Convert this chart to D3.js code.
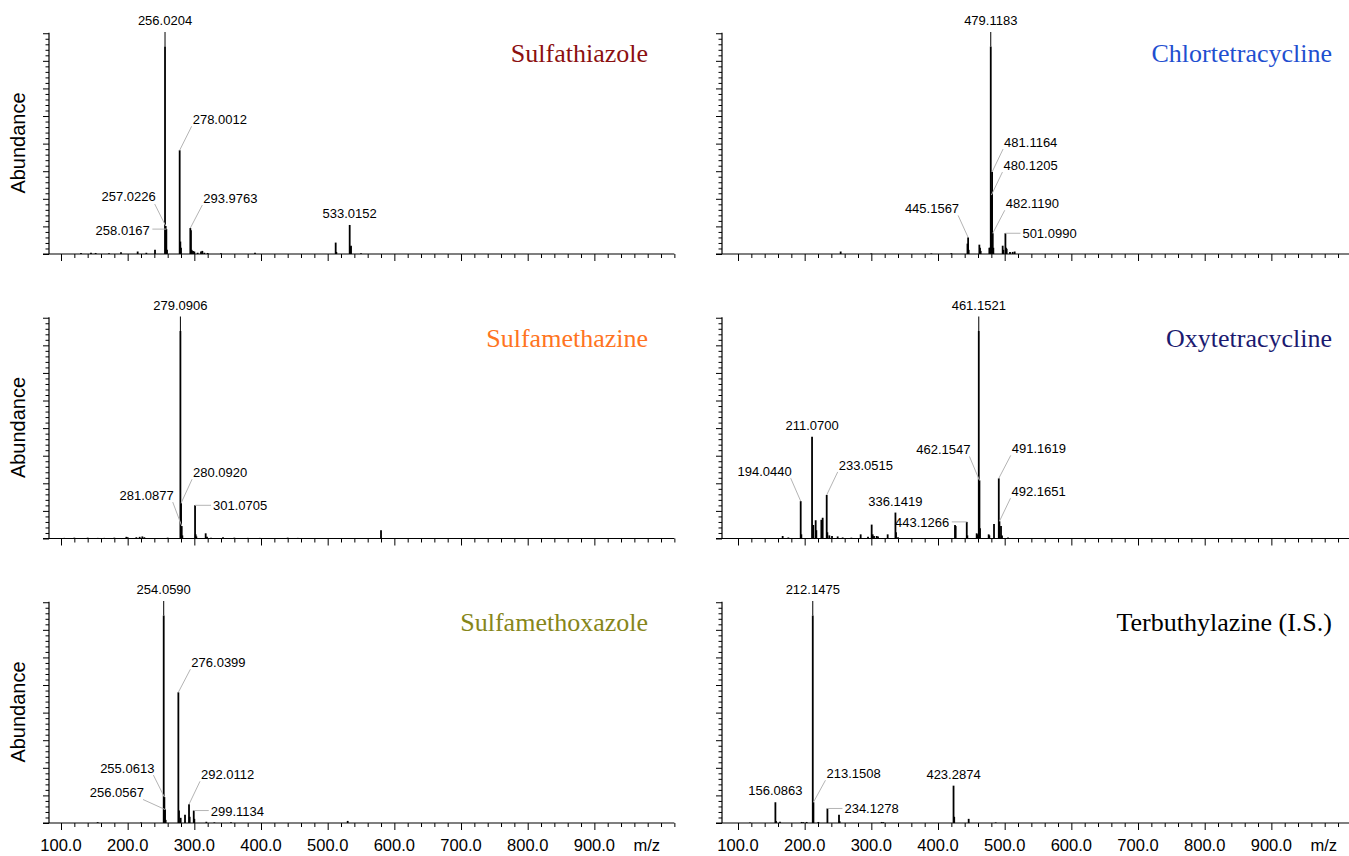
<!DOCTYPE html>
<html>
<head>
<meta charset="utf-8">
<script src="https://cdn.jsdelivr.net/npm/d3@7"></script>
<style>
  body { margin: 0; background: #fff; }
  svg { display: block; }
</style>
</head>
<body>
<svg id="chart" width="1349" height="856"></svg>
<script>
"use strict";

// m/z tick labels shown under the bottom row
const mzTickLabels = [100, 200, 300, 400, 500, 600, 700, 800, 900];

// Peaks: [m/z, relative abundance]
const sulfathiazolePeaks = [
    [130, 0.005], [145, 0.006], [152, 0.005], [172, 0.004], [190, 0.008], [215, 0.012], [228, 0.006],
    [241, 0.02], [256.0204, 1.0], [257.0226, 0.135], [258.0167, 0.12], [259, 0.02], [278.0012, 0.5],
    [279, 0.06], [280, 0.03], [293.9763, 0.125], [294.9, 0.115], [296, 0.02], [298, 0.015], [300, 0.012],
    [305, 0.006], [310, 0.012], [312, 0.015], [315, 0.006], [320, 0.005], [340, 0.004], [391, 0.006],
    [512, 0.055], [513, 0.01], [533.0152, 0.14], [534, 0.035], [535, 0.04], [550, 0.004]
];
const chlortetracyclinePeaks = [
    [254, 0.012], [300, 0.003], [390, 0.003], [420, 0.004], [444.2, 0.05], [445.1567, 0.08], [446, 0.02],
    [462, 0.045], [463, 0.03], [464, 0.015], [477, 0.03], [478, 0.03], [479.1183, 1.0], [480.1205, 0.284],
    [481.1164, 0.395], [482.119, 0.1], [483, 0.03], [497, 0.04], [498, 0.02], [501.099, 0.1], [502, 0.03],
    [503, 0.025], [508, 0.01], [512, 0.01], [515, 0.012]
];
const sulfamethazinePeaks = [
    [105, 0.003], [120, 0.004], [130, 0.003], [140, 0.004], [155, 0.003], [165, 0.003], [180, 0.004],
    [198, 0.008], [200, 0.006], [213, 0.006], [218, 0.008], [222, 0.01], [225, 0.006], [238, 0.003],
    [260, 0.004], [279.0906, 1.0], [280.092, 0.17], [281.0877, 0.06], [282, 0.015], [301.0705, 0.16],
    [302, 0.02], [303, 0.01], [317, 0.025], [319, 0.008], [325, 0.004], [343, 0.006], [360, 0.004],
    [380, 0.003], [398, 0.003], [440, 0.004], [455, 0.003], [580, 0.04]
];
const oxytetracyclinePeaks = [
    [167, 0.012], [175.5, 0.005], [194.044, 0.18], [195, 0.02], [211.07, 0.49], [213, 0.065],
    [216.5, 0.088], [217.5, 0.04], [225, 0.09], [227, 0.1], [233.0515, 0.21], [234, 0.03], [237, 0.015],
    [241, 0.012], [249.5, 0.01], [257, 0.005], [270, 0.004], [284, 0.02], [295, 0.008], [300.5, 0.067],
    [302, 0.02], [304, 0.012], [308, 0.012], [310, 0.01], [324.5, 0.02], [336.1419, 0.125], [337, 0.03],
    [340, 0.006], [425.5, 0.065], [426.5, 0.06], [443.1266, 0.08], [444, 0.015], [458, 0.025],
    [459, 0.02], [461.1521, 1.0], [462.1547, 0.28], [463, 0.05], [476, 0.02], [477, 0.015], [484, 0.07],
    [491.1619, 0.29], [492.1651, 0.083], [494.5, 0.06], [496, 0.015], [505, 0.005]
];
const sulfamethoxazolePeaks = [
    [155, 0.004], [220, 0.003], [254.059, 1.0], [255.0613, 0.125], [256.0567, 0.065], [257, 0.015],
    [276.0399, 0.63], [277, 0.06], [279.5, 0.025], [286, 0.04], [292.0112, 0.09], [293, 0.03],
    [299.1134, 0.06], [300, 0.02], [318, 0.006], [330, 0.003], [355, 0.004], [530, 0.01]
];
const terbuthylazinePeaks = [
    [118, 0.003], [156.0863, 0.1], [157, 0.01], [163, 0.006], [195.5, 0.005], [198, 0.004], [203, 0.005],
    [212.1475, 1.0], [213.1508, 0.1], [220.5, 0.005], [234.1278, 0.07], [251.5, 0.04], [252.5, 0.008],
    [315.5, 0.005], [318, 0.004], [423.2874, 0.18], [424.3, 0.03], [446, 0.02], [486.5, 0.003]
];

// Annotated peaks (m/z text) per panel
const sulfathiazoleLabels = ["256.0204", "278.0012", "257.0226", "258.0167", "293.9763", "533.0152"];
const chlortetracyclineLabels = ["479.1183", "481.1164", "480.1205", "482.1190", "445.1567", "501.0990"];
const sulfamethazineLabels = ["279.0906", "280.0920", "281.0877", "301.0705"];
const oxytetracyclineLabels = ["461.1521", "211.0700", "194.0440", "233.0515", "336.1419", "443.1266",
    "462.1547", "491.1619", "492.1651"];
const sulfamethoxazoleLabels = ["254.0590", "276.0399", "255.0613", "256.0567", "292.0112", "299.1134"];
const terbuthylazineLabels = ["212.1475", "213.1508", "156.0863", "234.1278", "423.2874"];

// Where each annotation sits relative to its peak top (leader end offset in px)
const labelLayout = {
    "256.0204": ["top"], "278.0012": ["ur", 12, -24], "257.0226": ["ul", -11, -22],
    "258.0167": ["l", -14, 0], "293.9763": ["ur", 12, -23], "533.0152": ["c"],
    "479.1183": ["top"], "481.1164": ["ur", 11, -23], "480.1205": ["ur", 11, -23],
    "482.1190": ["ur", 12, -23], "445.1567": ["ul", -10, -22], "501.0990": ["r", 15, 0],
    "279.0906": ["top"], "280.0920": ["ur", 11, -24], "281.0877": ["ul", -9, -24], "301.0705": ["r", 16, 0],
    "461.1521": ["top"], "211.0700": ["c"], "194.0440": ["ul", -10, -23], "233.0515": ["ur", 11, -23],
    "336.1419": ["c"], "443.1266": ["l", -15, 0], "462.1547": ["ul", -10, -24],
    "491.1619": ["ur", 12, -23], "492.1651": ["ur", 11, -23],
    "254.0590": ["top"], "276.0399": ["ur", 12, -23], "255.0613": ["ul", -11, -22],
    "256.0567": ["ul", -22, -10], "292.0112": ["ur", 11, -23], "299.1134": ["r", 15, 0],
    "212.1475": ["top"], "213.1508": ["ur", 12, -22], "156.0863": ["c"], "234.1278": ["r", 15, 0],
    "423.2874": ["c"]
};

const panels = [
    {title: "Sulfathiazole", color: "#8b1010", col: 0, row: 0, peaks: sulfathiazolePeaks, labels: sulfathiazoleLabels},
    {title: "Chlortetracycline", color: "#1f4fd0", col: 1, row: 0, peaks: chlortetracyclinePeaks, labels: chlortetracyclineLabels},
    {title: "Sulfamethazine", color: "#ff7421", col: 0, row: 1, peaks: sulfamethazinePeaks, labels: sulfamethazineLabels},
    {title: "Oxytetracycline", color: "#1b1a70", col: 1, row: 1, peaks: oxytetracyclinePeaks, labels: oxytetracyclineLabels},
    {title: "Sulfamethoxazole", color: "#86861a", col: 0, row: 2, peaks: sulfamethoxazolePeaks, labels: sulfamethoxazoleLabels},
    {title: "Terbuthylazine (I.S.)", color: "#000000", col: 1, row: 2, peaks: terbuthylazinePeaks, labels: terbuthylazineLabels}
];

const PANEL_TOP = 32;
const PANEL_STEP = 284.5;
const PANEL_HEIGHT = 222;
const COL_AXIS_X = [49, 722];
const COL_X100 = [61, 738];
const PX_PER_MZ = 0.6667;
const Y_MAX = 1.07;
const Y_TICK_STEP = 1.064 / 40;
const LABEL_FONT = "'Liberation Sans', Arial, sans-serif";

const svg = d3.select("#chart");

panels.forEach(function (p) {
    const top = PANEL_TOP + p.row * PANEL_STEP;
    const base = top + PANEL_HEIGHT;
    const axisX = COL_AXIS_X[p.col];
    const x0 = COL_X100[p.col];

    const x = d3.scaleLinear()
        .domain([100, 1000])
        .range([x0, x0 + 900 * PX_PER_MZ]);
    const y = d3.scaleLinear()
        .domain([0, Y_MAX])
        .range([base, top]);

    const g = svg.append("g").attr("class", "panel");

    // x axis: baseline with major/minor ticks
    const xTicks = d3.range(100, 1021, 20);
    const xAxis = d3.axisBottom(x)
        .tickValues(xTicks)
        .tickSize(0)
        .tickFormat("");
    const xg = g.append("g")
        .attr("transform", "translate(0," + base + ")")
        .call(xAxis);
    xg.select(".domain").remove();
    xg.selectAll(".tick line")
        .attr("y2", function (d) { return d % 100 === 0 && d < 1000 ? 7 : 4; })
        .attr("stroke", "#000");
    g.append("line")
        .attr("x1", axisX - 6).attr("x2", x(1020))
        .attr("y1", base).attr("y2", base)
        .attr("stroke", "#000").attr("stroke-width", 1.2);

    // y axis with many small ticks
    const yTicks = d3.range(0, 41).map(function (i) { return i * Y_TICK_STEP; });
    const yAxis = d3.axisLeft(y)
        .tickValues(yTicks)
        .tickSize(0)
        .tickFormat("");
    const yg = g.append("g")
        .attr("transform", "translate(" + axisX + ",0)")
        .call(yAxis);
    yg.select(".domain").remove();
    yg.selectAll(".tick line")
        .attr("x2", function (d, i) { return i % 5 === 0 ? -6 : -3.5; })
        .attr("stroke", "#000");
    g.append("line")
        .attr("x1", axisX).attr("x2", axisX)
        .attr("y1", base).attr("y2", y(1.064) - 0.5)
        .attr("stroke", "#000").attr("stroke-width", 1.2);

    // bottom row gets the m/z labels
    if (p.row === 2) {
        g.selectAll(".mzlabel")
            .data(mzTickLabels)
            .enter().append("text")
            .attr("x", function (d) { return x(d); })
            .attr("y", base + 28)
            .attr("text-anchor", "middle")
            .style("font-family", LABEL_FONT)
            .style("font-size", "16.5px")
            .text(function (d) { return d.toFixed(1); });
        g.append("text")
            .attr("x", x(1000) - 1)
            .attr("y", base + 28)
            .attr("text-anchor", "end")
            .style("font-family", LABEL_FONT)
            .style("font-size", "16.5px")
            .text("m/z");
    }

    if (p.col === 0) {
        g.append("text")
            .attr("transform", "translate(25," + (top + PANEL_HEIGHT / 2) + ") rotate(-90)")
            .attr("text-anchor", "middle")
            .style("font-family", LABEL_FONT)
            .style("font-size", "20px")
            .text("Abundance");
    }

    // peaks as sticks
    g.selectAll(".peak")
        .data(p.peaks)
        .enter().append("line")
        .attr("class", "peak")
        .attr("x1", function (d) { return x(d[0]); })
        .attr("x2", function (d) { return x(d[0]); })
        .attr("y1", base)
        .attr("y2", function (d) { return y(d[1]); })
        .attr("stroke", "#000")
        .attr("stroke-width", 1.8);

    // annotations
    p.labels.forEach(function (txt) {
        const mz = +txt;
        const peak = p.peaks.find(function (d) { return Math.abs(d[0] - mz) < 0.01; });
        const px = x(peak[0]);
        const py = y(peak[1]);
        const lay = labelLayout[txt];
        const kind = lay[0];
        let tx, ty, anchor;
        let leader = null;
        if (kind === "top") {
            tx = px; ty = top - 7; anchor = "middle";
            leader = [px, py, px, top];
        } else if (kind === "c") {
            tx = px; ty = py - 7; anchor = "middle";
        } else {
            const ex = px + lay[1];
            const ey = py + lay[2];
            leader = [px, py, ex, ey];
            if (kind === "ur") { tx = ex + 1; ty = ey - 2; anchor = "start"; }
            if (kind === "ul") { tx = ex + 1; ty = ey - 2.5; anchor = "end"; }
            if (kind === "r") { tx = ex + 2; ty = ey + 5; anchor = "start"; }
            if (kind === "l") { tx = ex - 2.5; ty = ey + 5.5; anchor = "end"; }
        }
        if (leader) {
            g.append("line")
                .attr("x1", leader[0]).attr("y1", leader[1])
                .attr("x2", leader[2]).attr("y2", leader[3])
                .attr("stroke", kind === "top" ? "#000" : "#b4b4b4")
                .attr("stroke-width", 1);
        }
        g.append("text")
            .attr("x", tx).attr("y", ty)
            .attr("text-anchor", anchor)
            .style("font-family", LABEL_FONT)
            .style("font-size", "13px")
            .text(txt);
    });

    // compound title
    g.append("text")
        .attr("x", p.col === 0 ? 648 : 1332)
        .attr("y", top + 30)
        .attr("text-anchor", "end")
        .style("font-family", "'Liberation Serif', 'Times New Roman', serif")
        .style("font-size", "26px")
        .attr("fill", p.color)
        .text(p.title);
});
</script>
</body>
</html>
